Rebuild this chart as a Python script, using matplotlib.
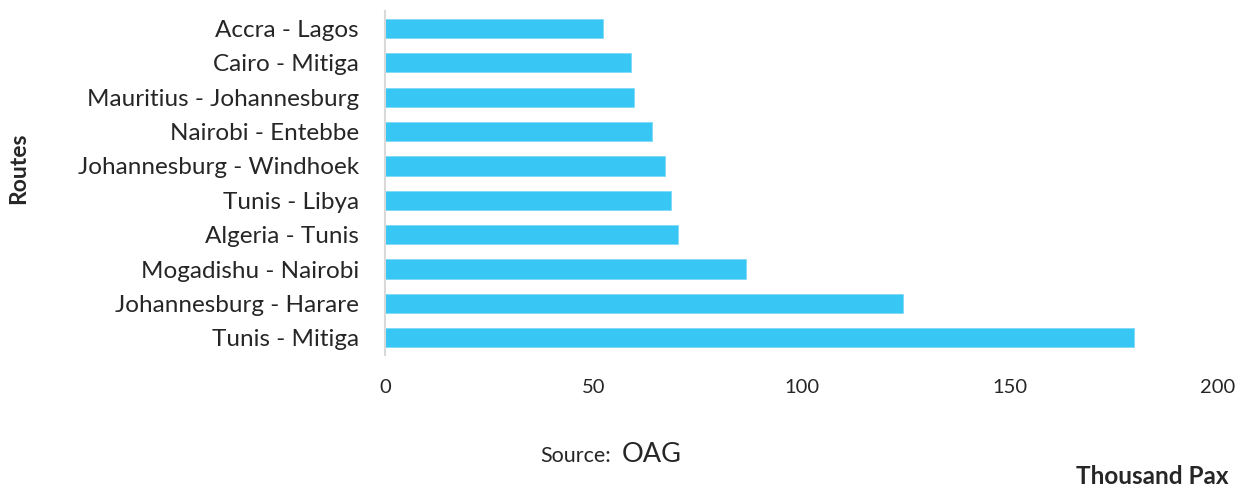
import matplotlib.pyplot as plt

plt.rcParams['font.family'] = ['Lato', 'DejaVu Sans']

# Busiest intra-African routes (thousand passengers)
routes = ["Tunis - Mitiga", "Johannesburg - Harare", "Mogadishu - Nairobi",
          "Algeria - Tunis", "Tunis - Libya", "Johannesburg - Windhoek",
          "Nairobi - Entebbe", "Mauritius - Johannesburg", "Cairo - Mitiga",
          "Accra - Lagos"]
pax = [179.8, 124.3, 86.7, 70.4, 68.7, 67.2, 64.0, 59.8, 58.9, 52.3]
xticks = [0, 50, 100, 150, 200]

fig = plt.figure(figsize=(12.51, 4.87), dpi=100)
ax = fig.add_axes([0.308, 0.271, 0.6656, 0.706])

ax.barh(routes, pax, height=0.56, color="#38C6F4", edgecolor="#7fd9f7", linewidth=0.6)

ax.set_xlim(0, 200)
ax.set_ylim(-0.5, 9.5)
ax.set_xticks(xticks)
ax.tick_params(axis="x", length=0, pad=17, labelsize=14.5, colors="#262626")
ax.tick_params(axis="y", length=0, pad=19, labelsize=17.5, colors="#262626")

for s in ["top", "right", "bottom"]:
    ax.spines[s].set_visible(False)
ax.spines["left"].set_color("#d9d9d9")
ax.spines["left"].set_linewidth(1.5)

fig.text(0.0145, 0.655, "Routes", rotation=90, fontsize=16.5, fontweight="bold",
         color="#262626", ha="center", va="center")
fig.text(0.432, 0.063, "Source:", fontsize=15.5, color="#262626", ha="left", va="center")
fig.text(0.497, 0.067, "OAG", fontsize=19.5, color="#262626", ha="left", va="center")
fig.text(0.982, 0.022, "Thousand Pax", fontsize=17.5, fontweight="bold",
         color="#262626", ha="right", va="center")

fig.savefig("out.png", dpi=100)
